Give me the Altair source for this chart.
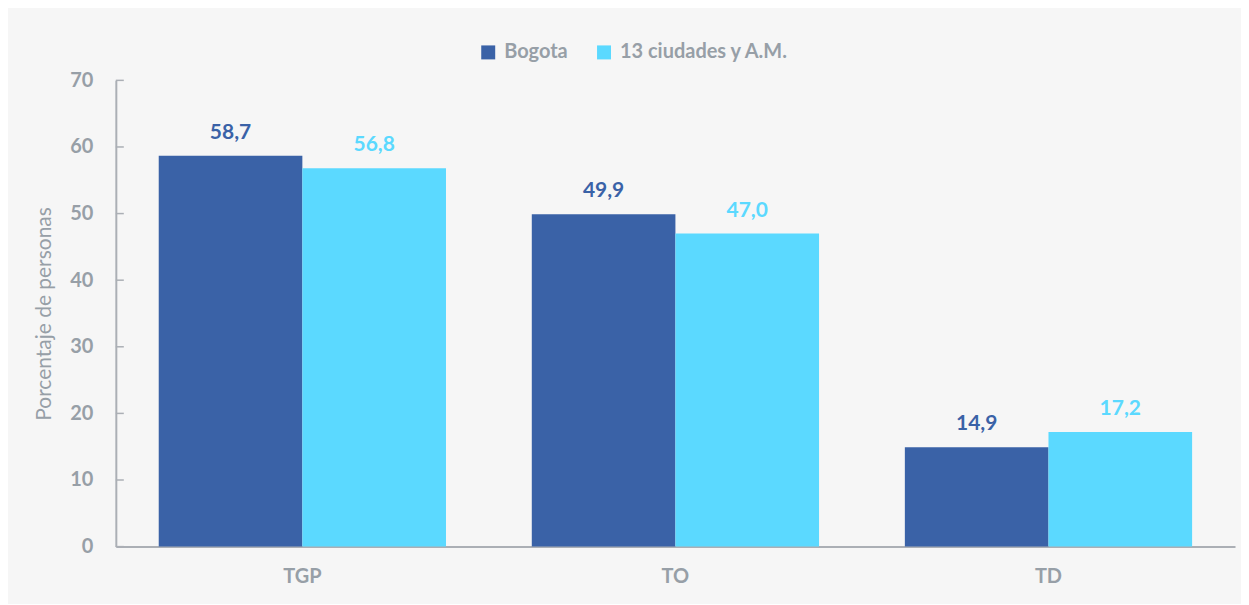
import altair as alt
import pandas as pd

categories = ["TGP", "TO", "TD"]
series = ["Bogota", "13 ciudades y A.M."]
bogota = [58.7, 49.9, 14.9]
ciudades = [56.8, 47.0, 17.2]
y_ticks = [0, 10, 20, 30, 40, 50, 60, 70]

colors = ["#3a62a7", "#5bd9ff"]
gray = "#979fa7"
axis_gray = "#abafb5"
font = "Lato"

rows = []
for c, b, m in zip(categories, bogota, ciudades):
    rows.append({"cat": c, "serie": series[0], "val": b})
    rows.append({"cat": c, "serie": series[1], "val": m})
df = pd.DataFrame(rows)
df["label"] = df["val"].map(lambda v: f"{v:.1f}".replace(".", ","))

ticks_df = pd.DataFrame({"t": y_ticks})

x_enc = alt.X("cat:N", sort=categories,
              scale=alt.Scale(paddingInner=0.23, paddingOuter=0.115),
              axis=alt.Axis(title=None, labelFontSize=20, labelFont=font,
                            labelFontWeight="bold", labelColor=gray,
                            labelPadding=20, ticks=False, domainColor=axis_gray,
                            domainWidth=2, labelAngle=0))
xo_enc = alt.XOffset("serie:N", sort=series,
                     scale=alt.Scale(paddingInner=0, paddingOuter=0))
y_scale = alt.Scale(domain=[0, 70], nice=False)
color_enc = alt.Color("serie:N", sort=series,
                      scale=alt.Scale(domain=series, range=colors),
                      legend=alt.Legend(title=None, orient="none", direction="horizontal",
                                        legendX=363, legendY=-38,
                                        symbolType="square", symbolSize=196,
                                        symbolStrokeWidth=0, symbolOpacity=1,
                                        labelFontSize=20, labelFont=font,
                                        labelFontWeight="bold", labelColor=gray,
                                        labelLimit=0,
                                        labelOffset=6, columnPadding=26))

bars = alt.Chart(df).mark_bar(opacity=1).encode(
    x=x_enc,
    xOffset=xo_enc,
    y=alt.Y("val:Q", scale=y_scale,
            axis=alt.Axis(title="Porcentaje de personas", values=y_ticks,
                          ticks=False, grid=False, labelFontSize=20, labelFont=font,
                          labelFontWeight="bold", labelColor=gray, labelPadding=23,
                          domainColor=axis_gray, domainWidth=2,
                          titleFont=font, titleFontSize=21, titleFontWeight="normal",
                          titleColor=gray, titleAngle=-90, titleX=-61, titleY=233.5,
                          titleAlign="center", titleBaseline="bottom")),
    color=color_enc,
)

labels = alt.Chart(df).mark_text(font=font, fontSize=21, fontWeight="bold",
                                 baseline="alphabetic", dy=-17).encode(
    x=alt.X("cat:N", sort=categories),
    xOffset=alt.XOffset("serie:N", sort=series),
    y=alt.Y("val:Q", scale=y_scale),
    text="label:N",
    color=alt.Color("serie:N", sort=series, scale=alt.Scale(domain=series, range=colors), legend=None),
)

ticks = alt.Chart(ticks_df).mark_rule(color=axis_gray, strokeWidth=1.5).encode(
    y=alt.Y("t:Q", scale=y_scale),
    x=alt.value(0),
    x2=alt.value(8),
)

chart = alt.layer(bars, labels, ticks).properties(
    width=1121, height=467,
    padding={"left": 108, "top": 72, "right": 6, "bottom": 57},
    autosize=alt.AutoSizeParams(type="none"),
    background="#f6f6f6",
).configure_view(stroke=None)

chart.save("out.html", embed_options={"renderer": "svg", "actions": False})
